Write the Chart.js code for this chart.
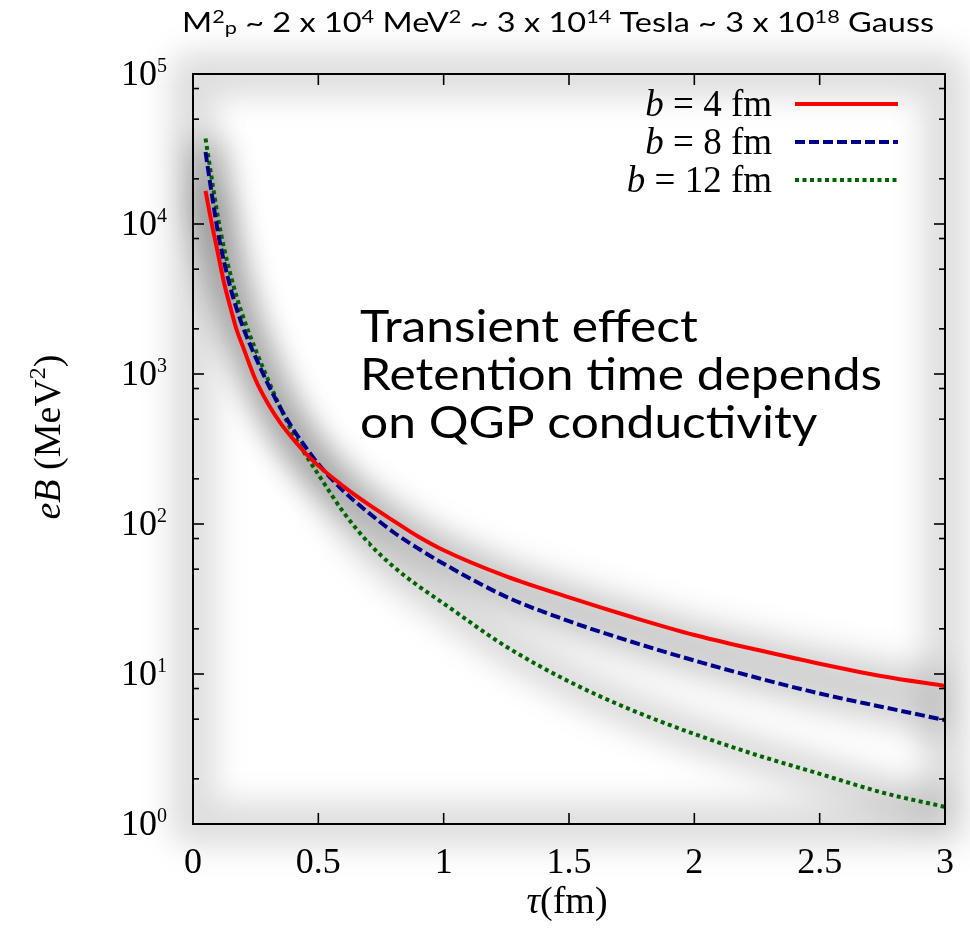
<!DOCTYPE html>
<html><head><meta charset="utf-8">
<script src="https://cdn.jsdelivr.net/npm/chart.js@4.4.1/dist/chart.umd.min.js"></script>
<style>html,body{margin:0;padding:0;background:#fff;}#wrap{width:970px;height:939px;position:relative;}</style>
</head><body><div id="wrap"><canvas id="c"></canvas></div>
<script>
// ---- data ----
const tau = [0.05, 0.075, 0.1, 0.125, 0.15, 0.175, 0.2, 0.25, 0.3, 0.35, 0.4, 0.45, 0.5, 0.6, 0.7, 0.8, 0.9, 1.0, 1.25, 1.5, 1.75, 2.0, 2.25, 2.5, 2.75, 3.0];
const eB_b4  = [16600, 10000, 6310, 3980, 2750, 1950, 1510, 912, 631, 468, 367, 295, 245, 178, 135, 105, 82.2, 66.8, 44.7, 32.4, 24.0, 18.2, 14.5, 11.7, 9.66, 8.32];
const eB_b8  = [30200, 15850, 8710, 5500, 3720, 2690, 2040, 1290, 851, 589, 427, 324, 251, 166, 119, 88.1, 68.4, 54.3, 32.7, 22.5, 16.4, 12.3, 9.44, 7.41, 6.03, 4.93];
const eB_b12 = [37150, 19950, 10960, 6760, 4570, 3240, 2400, 1445, 912, 589, 398, 288, 214, 120, 75.0, 51.9, 38.5, 29.5, 15.2, 8.91, 5.75, 3.98, 2.88, 2.16, 1.62, 1.30];
const seriesValues = [eB_b4, eB_b8, eB_b12];
const seriesNumbers = ['4', '8', '12'];
const seriesColors = ['#ff0000', '#00008b', '#006400'];
const seriesDashes = [[], [10, 4], [4, 3.5]];
const xTickValues = [0, 0.5, 1, 1.5, 2, 2.5, 3];
const xTickLabels = ['0', '0.5', '1', '1.5', '2', '2.5', '3'];
const yMajorValues = [1, 10, 100, 1000, 10000, 100000];
const yMajorExponents = ['0', '1', '2', '3', '4', '5'];
const yMinorMantissas = [2, 5, 8];
const annotationLines = ['Transient effect', 'Retention time depends', 'on QGP conductivity'];

const SERIF = '"Liberation Serif", "DejaVu Serif", serif';
const SANS = 'Lato, "Open Sans", sans-serif';

function richWidth(ctx, parts) {
  let w = 0;
  for (const p of parts) { ctx.font = p.font; w += ctx.measureText(p.text).width; }
  return w;
}
function drawRich(ctx, parts, x, y) {
  let cx = x;
  for (const p of parts) {
    ctx.font = p.font;
    ctx.fillText(p.text, cx, y + (p.dy || 0));
    cx += ctx.measureText(p.text).width;
  }
}

const decor = {
  id: 'decor',
  beforeDraw(chart) {
    const ctx = chart.ctx;
    ctx.save();
    ctx.fillStyle = '#fff';
    ctx.fillRect(0, 0, chart.width, chart.height);
    ctx.restore();
  },
  beforeDatasetsDraw(chart) {
    const {ctx, chartArea: a} = chart;
    ctx.save();
    ctx.filter = 'blur(15px)';
    ctx.lineJoin = 'round';
    ctx.strokeStyle = 'rgba(0,0,0,0.13)';
    ctx.lineWidth = 46;
    ctx.strokeRect(a.left, a.top, a.right - a.left, a.bottom - a.top);
    ctx.strokeStyle = 'rgba(0,0,0,0.15)';
    ctx.lineWidth = 36;
    chart.data.datasets.forEach((ds, i) => {
      const pts = chart.getDatasetMeta(i).data;
      ctx.beginPath();
      pts.forEach((p, j) => j ? ctx.lineTo(p.x, p.y) : ctx.moveTo(p.x, p.y));
      ctx.stroke();
    });
    ctx.restore();
  },
  afterDatasetsDraw(chart) {
    const {ctx, chartArea: a, scales: {x, y}} = chart;
    ctx.save();
    ctx.strokeStyle = '#000';
    ctx.fillStyle = '#000';
    const seg = (x1, y1, x2, y2) => { ctx.beginPath(); ctx.moveTo(x1, y1); ctx.lineTo(x2, y2); ctx.stroke(); };
    ctx.lineWidth = 1.6;
    xTickValues.forEach(v => {
      const px = x.getPixelForValue(v);
      seg(px, a.bottom, px, a.bottom - 11);
      seg(px, a.top, px, a.top + 11);
    });
    yMajorValues.forEach(v => {
      const py = y.getPixelForValue(v);
      seg(a.left, py, a.left + 11, py);
      seg(a.right, py, a.right - 11, py);
    });
    yMajorValues.slice(0, -1).forEach(d => {
      yMinorMantissas.forEach(m => {
        const py = y.getPixelForValue(m * d);
        seg(a.left, py, a.left + 6, py);
        seg(a.right, py, a.right - 6, py);
      });
    });
    ctx.lineWidth = 2;
    ctx.strokeRect(a.left, a.top, a.right - a.left, a.bottom - a.top);

    // x tick labels
    ctx.textBaseline = 'alphabetic';
    ctx.textAlign = 'center';
    ctx.font = '36px ' + SERIF;
    xTickValues.forEach((v, i) => {
      ctx.fillText(xTickLabels[i], x.getPixelForValue(v), a.bottom + 49);
    });
    // y tick labels 10^n
    ctx.textAlign = 'left';
    yMajorValues.forEach((v, i) => {
      const py = y.getPixelForValue(v);
      const parts = [
        {text: '10', font: '36px ' + SERIF},
        {text: yMajorExponents[i], font: '20px ' + SERIF, dy: -13}
      ];
      const w = richWidth(ctx, parts);
      drawRich(ctx, parts, a.left - 26 - w, py + 11);
    });

    // axis titles
    {
      const parts = [
        {text: 'τ', font: 'italic 38px ' + SERIF},
        {text: '(fm)', font: '38px ' + SERIF}
      ];
      const w = richWidth(ctx, parts);
      const cx = (x.getPixelForValue(0) + x.getPixelForValue(3)) / 2 - 2;
      drawRich(ctx, parts, cx - w / 2, a.bottom + 89);
    }
    {
      const parts = [
        {text: 'eB', font: 'italic 38px ' + SERIF},
        {text: ' (MeV', font: '38px ' + SERIF},
        {text: '2', font: '24px ' + SERIF, dy: -15},
        {text: ')', font: '38px ' + SERIF}
      ];
      const w = richWidth(ctx, parts);
      ctx.save();
      ctx.translate(60, 437);
      ctx.rotate(-Math.PI / 2);
      drawRich(ctx, parts, -w / 2, 0);
      ctx.restore();
    }

    // legend
    chart.data.datasets.forEach((ds, i) => {
      const rowY = 104 + 38 * i;
      const parts = [
        {text: 'b', font: 'italic 37px ' + SERIF},
        {text: ' = ' + seriesNumbers[i] + ' fm', font: '37px ' + SERIF}
      ];
      const w = richWidth(ctx, parts);
      ctx.fillStyle = '#000';
      drawRich(ctx, parts, 772 - w, rowY + 12);
      ctx.save();
      ctx.strokeStyle = ds.borderColor;
      ctx.lineWidth = 4;
      ctx.setLineDash(ds.borderDash);
      seg(795, rowY, 898, rowY);
      ctx.restore();
    });

    // annotation text
    ctx.font = '44px ' + SANS;
    ctx.fillStyle = '#000';
    const wRef = ctx.measureText(annotationLines[1]).width;
    const sx = 522 / wRef;
    annotationLines.forEach((t, i) => {
      ctx.save();
      ctx.translate(360, 342 + 48 * i);
      ctx.scale(sx, 1);
      ctx.fillText(t, 0, 0);
      ctx.restore();
    });

    // title
    {
      const N = '27px ' + SANS, S = '18px ' + SANS;
      const parts = [
        {text: 'M', font: N}, {text: '2', font: S, dy: -9}, {text: 'p', font: S, dy: 2},
        {text: ' ~ 2 x 10', font: N}, {text: '4', font: S, dy: -9},
        {text: ' MeV', font: N}, {text: '2', font: S, dy: -9},
        {text: ' ~ 3 x 10', font: N}, {text: '14', font: S, dy: -9},
        {text: ' Tesla ~ 3 x 10', font: N}, {text: '18', font: S, dy: -9},
        {text: ' Gauss', font: N}
      ];
      const w = richWidth(ctx, parts);
      ctx.save();
      ctx.translate(182, 32);
      ctx.scale(752 / w, 1);
      drawRich(ctx, parts, 0, 0);
      ctx.restore();
    }
    ctx.restore();
  }
};

new Chart(document.getElementById('c'), {
  type: 'line',
  data: {
    datasets: seriesValues.map((arr, i) => ({
      label: 'b = ' + seriesNumbers[i] + ' fm',
      data: tau.map((t, j) => ({x: t, y: arr[j]})),
      borderColor: seriesColors[i],
      borderWidth: 4,
      borderDash: seriesDashes[i],
      borderCapStyle: 'butt',
      pointRadius: 0,
      fill: false,
      cubicInterpolationMode: 'monotone'
    }))
  },
  options: {
    responsive: true,
    maintainAspectRatio: false,
    animation: false,
    events: [],
    layout: {padding: {left: 193, top: 74, right: 25, bottom: 115}},
    plugins: {legend: {display: false}, title: {display: false}, tooltip: {enabled: false}},
    scales: {
      x: {type: 'linear', min: 0, max: 3, display: false},
      y: {type: 'logarithmic', min: 1, max: 100000, display: false}
    }
  },
  plugins: [decor]
});
</script>
</body></html>
